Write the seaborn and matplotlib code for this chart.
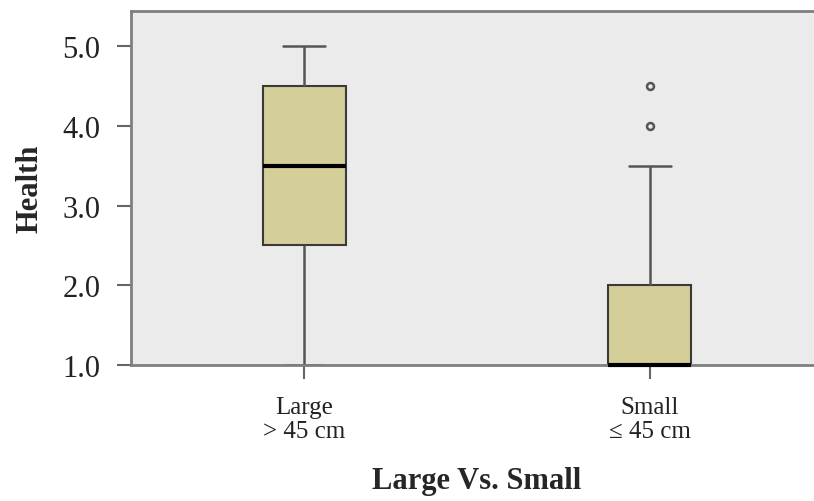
import pandas as pd
import matplotlib.pyplot as plt
import seaborn as sns

large_health = [1.0, 2.5, 2.5, 3.5, 4.5, 4.5, 5.0]
small_health = [1.0, 1.0, 1.0, 1.0, 1.0, 1.0, 1.0, 1.0, 1.0,
                1.5, 2.0, 2.0, 2.0, 3.0, 3.5, 4.0, 4.5]
group_names = ["Large", "Small"]
tick_labels = ["Large\n> 45 cm", "Small\n\u2264 45 cm"]
y_ticks = [1.0, 2.0, 3.0, 4.0, 5.0]

df = pd.DataFrame({
    "group": [group_names[0]] * len(large_health) + [group_names[1]] * len(small_health),
    "health": large_health + small_health,
})

sns.set_style("white")
plt.rcParams["font.family"] = ["Liberation Serif", "DejaVu Serif"]

fig = plt.figure(figsize=(8.14, 5.02), dpi=100)
ax = fig.add_axes([0.161, 0.271, 0.850, 0.705])
ax.set_facecolor("#ebebeb")

sns.boxplot(data=df, x="group", y="health", order=group_names, ax=ax,
            color="#d4cf98", saturation=1, width=0.24, linewidth=1.5,
            linecolor="#3a3a3a", whis=1.5,
            medianprops={"color": "black", "linewidth": 3},
            whiskerprops={"color": "#555555", "linewidth": 1.8},
            capprops={"color": "#555555", "linewidth": 1.8},
            flierprops={"marker": "o", "markerfacecolor": "none",
                        "markeredgecolor": "#555555", "markersize": 5,
                        "markeredgewidth": 1.8})

# let the median of the small group show on the bottom edge (drawn above the spine)
for ln in ax.lines:
    if ln.get_linewidth() == 3:
        ln.set_clip_on(False)
        ln.set_zorder(3)

ax.set_xlim(-0.5, 1.5)
ax.set_ylim(1.0, 5.44)
ax.set_yticks(y_ticks)
ax.set_yticklabels([f"{v:.1f}" for v in y_ticks], fontsize=22, color="#222222")
ax.set_xticks([0, 1])
ax.set_xticklabels(tick_labels, fontsize=18, linespacing=1.15, color="#222222")

ax.tick_params(axis="y", left=True, length=10, width=1.5, color="#666666", pad=12)
ax.tick_params(axis="x", bottom=True, length=10, width=1.5, color="#666666", pad=12)

for side in ["left", "top", "bottom", "right"]:
    ax.spines[side].set_visible(True)
    ax.spines[side].set_color("#7f7f7f")
    ax.spines[side].set_linewidth(2)

ax.set_ylabel("Health", fontsize=22, fontweight="bold", labelpad=13)
ax.set_xlabel("Large Vs. Small", fontsize=22, fontweight="bold", labelpad=17)

fig.savefig("out.png", dpi=100)
